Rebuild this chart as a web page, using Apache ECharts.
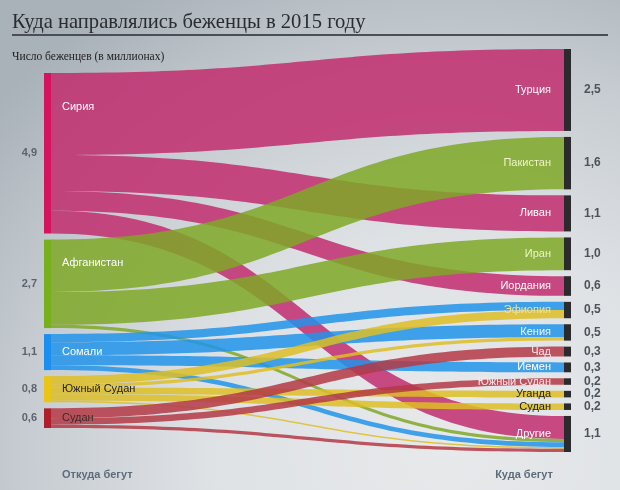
<!DOCTYPE html>
<html><head><meta charset="utf-8">
<script src="https://cdn.jsdelivr.net/npm/echarts@6/dist/echarts.min.js"></script>
<style>
html,body{margin:0;padding:0;}
#c{width:620px;height:490px;background:radial-gradient(ellipse 95% 110% at 72% 92%, #e7e9eb 0%, #dfe2e5 40%, #c6ccd1 72%, #a9b1b9 100%);}
</style>
</head><body><div id="c"></div>
<script>
// ---- data ----
const sources = ['Сирия', 'Афганистан', 'Сомали', 'Южный Судан', 'Судан'];
const sourceLabels = ['4,9', '2,7', '1,1', '0,8', '0,6'];
const targets = ['Турция', 'Пакистан', 'Ливан', 'Иран', 'Иордания', 'Эфиопия', 'Кения', 'Чад', 'Иемен', 'Южный Судан', 'Уганда', 'Судан', 'Другие'];
const targetLabels = ['2,5', '1,6', '1,1', '1,0', '0,6', '0,5', '0,5', '0,3', '0,3', '0,2', '0,2', '0,2', '1,1'];
// flows: source index -> target index
const flowSource = [0, 0, 0, 0, 1, 1, 1, 2, 2, 2, 2, 3, 3, 3, 3, 3, 4, 4, 4];
const flowTarget = [0, 2, 4, 12, 1, 3, 12, 5, 6, 8, 12, 5, 6, 10, 11, 12, 7, 9, 12];
const flowValue = [2.5, 1.1, 0.6, 0.7, 1.6, 1.0, 0.1, 0.25, 0.4, 0.3, 0.15, 0.25, 0.1, 0.2, 0.2, 0.05, 0.3, 0.2, 0.1];

// ---- styles ----
const sourceNodeColors = ['#d4145e', '#76b11c', '#1a8ff0', '#e8c516', '#b01d2b'];
const sourceLinkColors = ['#c22d6e', '#7fa827', '#2294ea', '#ddbe24', '#b43a45'];
const sourceLabelColors = ['#ffffff', '#ffffff', '#ffffff', '#222222', '#3a2a2a'];
const targetLabelColors = ['#ffffff', '#eef4c6', '#ffffff', '#eef4c6', '#ffffff', '#f3e48a', '#eef6ff', '#fbe9ee', '#ffffff', '#fbe9ee', '#222222', '#222222', '#ffffff'];
const sourceLabelPos = [[18, 34], [18, 23], [18, '50%'], [18, '50%'], [18, '50%']];

const W = 620, H = 490;
const L = 44, R = 49, T = 49, B = 38, GAP = 6, NW = 7;
const layoutH = H - T - B;
const total = flowValue.reduce((a, b) => a + b, 0);
const ky = (layoutH - (targets.length - 1) * GAP) / total;
// invisible spacer so the left column is centred against the right column
const spacer = (((targets.length - sources.length) * GAP) / 2 - GAP) / ky;

function buildNodes(valueSeries) {
  const nodes = [{
    name: 'pad', value: spacer, depth: 0,
    itemStyle: { opacity: 0 }, label: { show: false }
  }];
  sources.forEach((s, i) => {
    nodes.push({
      name: 's' + i, depth: 0,
      itemStyle: valueSeries ? { opacity: 0 } : { color: sourceNodeColors[i] },
      label: valueSeries ? {
        show: true, position: 'left', distance: 7, formatter: sourceLabels[i],
        color: '#5b6470', fontWeight: 'bold', fontSize: 11, fontFamily: 'Liberation Sans'
      } : {
        show: true, position: sourceLabelPos[i], verticalAlign: 'middle', align: 'left',
        formatter: s, color: sourceLabelColors[i], fontSize: 11, fontFamily: 'Liberation Sans'
      }
    });
  });
  targets.forEach((t, i) => {
    nodes.push({
      name: 't' + i, depth: 1,
      itemStyle: valueSeries ? { opacity: 0 } : { color: '#2b2b2d' },
      label: valueSeries ? {
        show: true, position: 'right', distance: 13, formatter: targetLabels[i],
        color: '#4d535a', fontWeight: 'bold', fontSize: 12, fontFamily: 'Liberation Sans'
      } : {
        show: true, position: 'left', distance: 13, formatter: t,
        color: targetLabelColors[i], fontSize: 11, fontFamily: 'Liberation Sans'
      }
    });
  });
  return nodes;
}
function buildLinks(valueSeries) {
  return flowValue.map((v, k) => ({
    source: 's' + flowSource[k], target: 't' + flowTarget[k], value: v,
    lineStyle: valueSeries ? { opacity: 0 } : { color: sourceLinkColors[flowSource[k]], opacity: 0.85 }
  }));
}
const common = {
  type: 'sankey', left: L, right: R, top: T, bottom: B,
  nodeWidth: NW, nodeGap: GAP, nodeAlign: 'left', layoutIterations: 0,
  draggable: false, emphasis: { disabled: true },
  lineStyle: { curveness: 0.5 }
};
const chart = echarts.init(document.getElementById('c'), null, { renderer: 'canvas' });
chart.setOption({
  backgroundColor: 'transparent',
  animation: false,
  title: [{
    text: 'Куда направлялись беженцы в 2015 году', left: 7, top: 7,
    textStyle: { fontFamily: 'Liberation Serif', fontSize: 20.6, fontWeight: 'normal', color: '#2a2c30' }
  }, {
    text: 'Число беженцев (в миллионах)', left: 7, top: 46,
    textStyle: { fontFamily: 'Liberation Serif', fontSize: 11.5, fontWeight: 'normal', color: '#222' }
  }, {
    text: 'Откуда бегут', left: 57, top: 464,
    textStyle: { fontFamily: 'Liberation Sans', fontSize: 11, fontWeight: 'bold', color: '#5e6c7b' }
  }, {
    text: 'Куда бегут', right: 62, top: 464,
    textStyle: { fontFamily: 'Liberation Sans', fontSize: 11, fontWeight: 'bold', color: '#5e6c7b' }
  }],
  graphic: [{
    type: 'line', shape: { x1: 12, y1: 35, x2: 608, y2: 35 },
    style: { stroke: '#4a4e55', lineWidth: 2 }, silent: true
  }],
  series: [
    Object.assign({}, common, { data: buildNodes(false), links: buildLinks(false) }),
    Object.assign({}, common, { silent: true, data: buildNodes(true), links: buildLinks(true) })
  ]
});
</script>
</body></html>
